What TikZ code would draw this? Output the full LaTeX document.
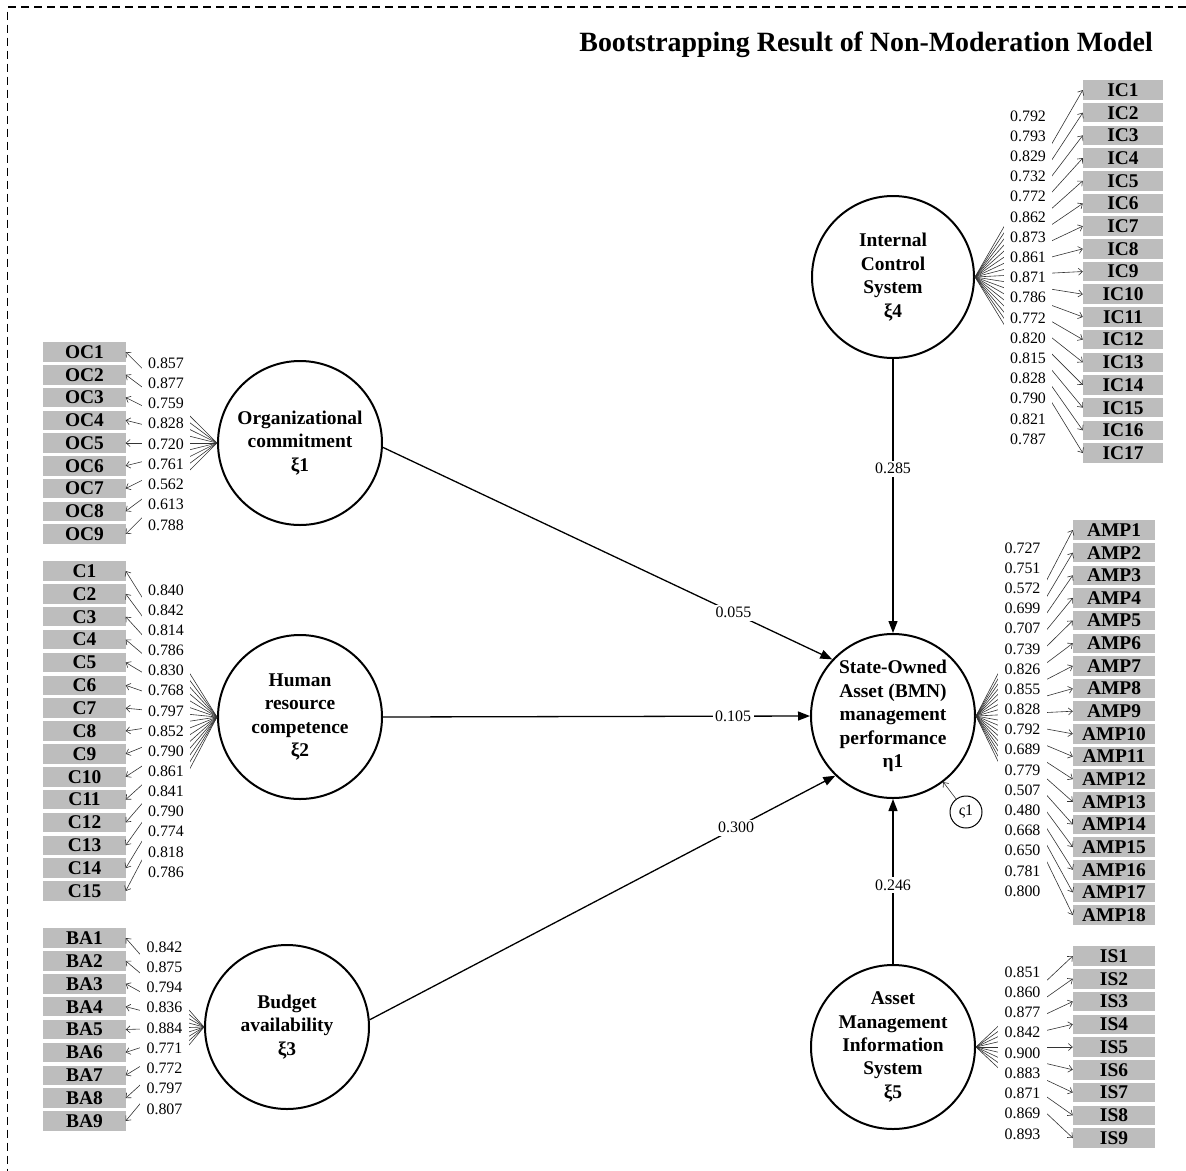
\documentclass[tikz,border=0pt]{standalone}
\usepackage{fontspec}
\setmainfont{Liberation Serif}
\usetikzlibrary{arrows.meta}
\begin{document}
\begin{tikzpicture}[x=1bp,y=-1bp,
  latent/.style={circle,draw,line width=2bp,minimum size=164bp,inner sep=0pt,align=center,font=\fontsize{19.5}{23.5}\selectfont\bfseries},
  indbox/.style={rectangle,fill=black!26,minimum width=82bp,minimum height=19.5bp,inner sep=0pt,font=\fontsize{19.5}{20}\selectfont\bfseries},
  loadlab/.style={fill=white,inner xsep=6.5bp,inner ysep=0pt,minimum height=20.4bp,font=\fontsize{16}{16}\selectfont},
  loadline/.style={line width=0.6bp,draw=black!80,-{Straight Barb[length=4bp,width=7bp]}},
  pathline/.style={line width=1.3bp,-{Triangle[length=12bp,width=9bp]}},
  pathlab/.style={fill=white,inner sep=2.5bp,font=\fontsize{16}{16}\selectfont},
  frame/.style={dash pattern=on 8bp off 5bp,line width=1.1bp}
]
\useasboundingbox (0,0) rectangle (1186,1171);

% frame
\coordinate (ftr) at (1186,7);
\coordinate (ftl) at (7.5,7);
\coordinate (fbl) at (7.5,1171);
\draw[frame] (ftr) -- (ftl) -- (fbl);

% title
\node[anchor=base east,font=\fontsize{28}{30}\selectfont\bfseries,inner sep=0pt] (title) at (1153,51) {Bootstrapping Result of Non-Moderation Model};

% latent variables
\node[latent] (xi1) at (300,443) {Organizational\\commitment\\ξ1};
\node[latent] (xi2) at (300,717) {Human\\resource\\competence\\ξ2};
\node[latent] (xi3) at (287,1027) {Budget\\availability\\ξ3};
\node[latent,minimum size=162bp] (xi4) at (893,277) {Internal\\Control\\System\\ξ4};
\node[latent] (eta) at (893,716) {State-Owned\\Asset (BMN)\\management\\performance\\η1};
\node[latent] (xi5) at (893,1047) {Asset\\Management\\Information\\System\\ξ5};
\node[circle,draw,line width=1bp,minimum size=32bp,inner sep=0pt,font=\fontsize{16}{16}\selectfont] (zeta) at (966,812) {ς1};

% indicator boxes and loading lines
\foreach \i in {1,...,9} {
  \node[indbox] (oc\i) at (84.5,{352+22.75*(\i-1)}) {OC\i};
  \draw[loadline] (xi1.west) -- (oc\i.east);
}
\foreach \i in {1,...,15} {
  \node[indbox] (c\i) at (84.5,{571+22.86*(\i-1)}) {C\i};
  \draw[loadline] (xi2.west) -- (c\i.east);
}
\foreach \i in {1,...,9} {
  \node[indbox] (ba\i) at (84.5,{938+22.875*(\i-1)}) {BA\i};
  \draw[loadline] (xi3.west) -- (ba\i.east);
}
\foreach \i in {1,...,17} {
  \node[indbox,minimum width=80bp] (ic\i) at (1123,{90+22.69*(\i-1)}) {IC\i};
  \draw[loadline] (xi4.east) -- (ic\i.west);
}
\foreach \i in {1,...,18} {
  \node[indbox] (amp\i) at (1114,{530+22.65*(\i-1)}) {AMP\i};
  \draw[loadline] (eta.east) -- (amp\i.west);
}
\foreach \i in {1,...,9} {
  \node[indbox] (is\i) at (1114,{956+22.75*(\i-1)}) {IS\i};
  \draw[loadline] (xi5.east) -- (is\i.west);
}

% loading labels
\foreach \v [count=\i] in {0.857,0.877,0.759,0.828,0.720,0.761,0.562,0.613,0.788}
  \node[loadlab] (ocl\i) at (166,{363+20.25*(\i-1)}) {\v};
\foreach \v [count=\i] in {0.840,0.842,0.814,0.786,0.830,0.768,0.797,0.852,0.790,0.861,0.841,0.790,0.774,0.818,0.786}
  \node[loadlab] (cl\i) at (166,{590+20.14*(\i-1)}) {\v};
\foreach \v [count=\i] in {0.842,0.875,0.794,0.836,0.884,0.771,0.772,0.797,0.807}
  \node[loadlab] (bal\i) at (164.5,{947+20.25*(\i-1)}) {\v};
\foreach \v [count=\i] in {0.792,0.793,0.829,0.732,0.772,0.862,0.873,0.861,0.871,0.786,0.772,0.820,0.815,0.828,0.790,0.821,0.787}
  \node[loadlab] (icl\i) at (1028,{116+20.19*(\i-1)}) {\v};
\foreach \v [count=\i] in {0.727,0.751,0.572,0.699,0.707,0.739,0.826,0.855,0.828,0.792,0.689,0.779,0.507,0.480,0.668,0.650,0.781,0.800}
  \node[loadlab] (ampl\i) at (1022.5,{548+20.18*(\i-1)}) {\v};
\foreach \v [count=\i] in {0.851,0.860,0.877,0.842,0.900,0.883,0.871,0.869,0.893}
  \node[loadlab] (isl\i) at (1022.5,{972+20.25*(\i-1)}) {\v};

% structural paths
\draw[pathline] (xi1.-3) -- node[pathlab,pos=0.78] (p1) {0.055} (eta.137);
\draw[pathline] (xi2.east) -- node[pathlab,pos=0.82] (p2) {0.105} (eta.west);
\draw[pathline] (xi3.5) -- node[pathlab,pos=0.787] (p3) {0.300} (eta.226);
\draw[pathline] (xi4.south) -- node[pathlab,pos=0.40] (p4) {0.285} (eta.north);
\draw[pathline] (xi5.north) -- node[pathlab,pos=0.48] (p5) {0.246} (eta.south);
\draw[loadline] (zeta) -- (eta);
\end{tikzpicture}
\end{document}
